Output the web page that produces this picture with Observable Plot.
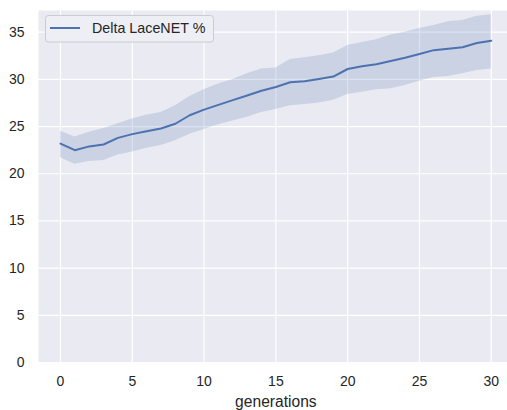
<!DOCTYPE html>
<html>
<head>
<meta charset="utf-8">
<script src="https://cdn.jsdelivr.net/npm/d3@7"></script>
<script src="https://cdn.jsdelivr.net/npm/@observablehq/plot@0.6"></script>
<style>
  html, body { margin: 0; padding: 0; background: #fff; }
  #chart { width: 507px; height: 410px; overflow: hidden; }
</style>
</head>
<body>
<div id="chart"></div>
<script>
const generations = [0,1,2,3,4,5,6,7,8,9,10,11,12,13,14,15,16,17,18,19,20,21,22,23,24,25,26,27,28,29,30];
const meanValues = [23.2,22.5,22.9,23.1,23.8,24.2,24.5,24.8,25.3,26.2,26.8,27.3,27.8,28.3,28.8,29.2,29.7,29.8,30.05,30.3,31.1,31.4,31.6,31.95,32.3,32.7,33.1,33.25,33.4,33.85,34.1];
const upperValues = [24.5,23.9,24.4,24.8,25.3,25.8,26.2,26.5,27.2,28.2,28.9,29.5,30.0,30.6,31.1,31.2,32.1,32.3,32.5,32.8,33.6,33.9,34.2,34.7,35.0,35.4,35.7,36.1,36.25,36.7,36.85];
const lowerValues = [21.7,21.0,21.3,21.4,22.0,22.3,22.7,23.0,23.5,24.2,24.7,25.2,25.6,26.0,26.5,26.8,27.2,27.35,27.5,27.8,28.4,28.65,28.9,29.0,29.35,29.8,30.2,30.3,30.6,30.95,31.1];
const xTicks = [0,5,10,15,20,25,30];
const yTicks = [0,5,10,15,20,25,30,35];
const seriesName = "Delta LaceNET %";
const xLabel = "generations";

const rows = generations.map((g, i) => ({g, mean: meanValues[i], lo: lowerValues[i], hi: upperValues[i]}));
const blue = "#4c72b0";
const ink = "#262626";

const plot = Plot.plot({
  width: 507,
  height: 410,
  marginLeft: 38,
  marginRight: 0,
  marginTop: 10,
  marginBottom: 48,
  style: {fontFamily: "'Liberation Sans', Arial, sans-serif", fontSize: "14px", color: ink, background: "#fff"},
  x: {domain: [-1.53, 31.13], ticks: xTicks, tickSize: 0, tickPadding: 14, label: null},
  y: {domain: [0, 37.3], ticks: yTicks, tickSize: 0, tickPadding: 14, label: null},
  marks: [
    Plot.frame({fill: "#eaeaf2", stroke: null}),
    Plot.gridX(xTicks, {stroke: "#fff", strokeOpacity: 1, strokeWidth: 1.2}),
    Plot.gridY(yTicks, {stroke: "#fff", strokeOpacity: 1, strokeWidth: 1.2}),
    Plot.areaY(rows, {x: "g", y1: "lo", y2: "hi", fill: blue, fillOpacity: 0.2}),
    Plot.lineY(rows, {x: "g", y: "mean", stroke: blue, strokeWidth: 2}),
    Plot.axisX(xTicks, {tickSize: 0, tickPadding: 14, fill: ink, fontSize: 14, label: null}),
    Plot.axisY(yTicks, {tickSize: 0, tickPadding: 14, fill: ink, fontSize: 14, label: null}),
    Plot.text([xLabel], {x: () => 15, frameAnchor: "bottom", dy: 39, lineAnchor: "middle", fill: ink, fontSize: 15.6})
  ]
});
document.getElementById("chart").appendChild(plot);

// legend
const svg = d3.select(plot);
const lg = svg.append("g");
lg.append("rect").attr("x", 45.5).attr("y", 15.5).attr("width", 168).attr("height", 26.5)
  .attr("rx", 3).attr("fill", "#eeeef5").attr("stroke", "#cccccc").attr("stroke-width", 1);
lg.append("line").attr("x1", 50).attr("x2", 80).attr("y1", 28).attr("y2", 28)
  .attr("stroke", blue).attr("stroke-width", 2);
lg.append("text").attr("x", 92).attr("y", 28).attr("dy", "0.35em")
  .attr("text-anchor", "start")
  .attr("fill", ink).attr("font-size", 14.3).text(seriesName);
</script>
</body>
</html>
